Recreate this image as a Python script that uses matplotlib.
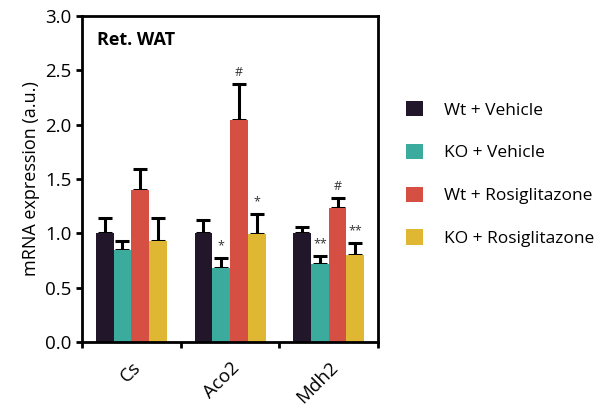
import matplotlib
matplotlib.use("Agg")
import matplotlib.pyplot as plt
import numpy as np

plt.rcParams['font.family'] = ['Open Sans', 'DejaVu Sans']

genes = ["Cs", "Aco2", "Mdh2"]
groups = ["Wt + Vehicle", "KO + Vehicle", "Wt + Rosiglitazone", "KO + Rosiglitazone"]
colors = ["#22172a", "#3aab9c", "#d64f43", "#e0b733"]

wt_veh = [1.00, 1.00, 1.00]
ko_veh = [0.85, 0.68, 0.72]
wt_rosi = [1.40, 2.04, 1.23]
ko_rosi = [0.93, 0.99, 0.80]

wt_veh_err = [0.14, 0.12, 0.06]
ko_veh_err = [0.08, 0.09, 0.07]
wt_rosi_err = [0.19, 0.33, 0.09]
ko_rosi_err = [0.21, 0.19, 0.11]

# significance marks: (gene index, group index, text)
marks_gene = [1, 1, 1, 2, 2, 2]
marks_group = [1, 2, 3, 1, 2, 3]
marks_text = ["*", "#", "*", "**", "#", "**"]

values = [wt_veh, ko_veh, wt_rosi, ko_rosi]
errors = [wt_veh_err, ko_veh_err, wt_rosi_err, ko_rosi_err]

fig = plt.figure(figsize=(6.03, 4.07), dpi=100)
ax = fig.add_axes([0.136, 0.160, 0.491, 0.801])

x = np.arange(len(genes))
w = 0.18
offsets = (np.arange(4) - 1.5) * w
for i in range(4):
    ax.bar(x + offsets[i], values[i], width=w, color=colors[i], label=groups[i], zorder=2)
    ax.errorbar(x + offsets[i], values[i], yerr=[np.zeros(3), errors[i]], fmt='none',
                ecolor='black', elinewidth=2.2, capsize=5, capthick=2.2, zorder=1)

for g, k, t in zip(marks_gene, marks_group, marks_text):
    top = values[k][g] + errors[k][g]
    ax.text(x[g] + offsets[k], top + 0.05, t, ha='center', va='bottom', fontsize=9, color='#333333')

ax.set_xlim(-0.5, 2.5)
ax.set_ylim(0, 3.0)
ax.set_yticks(np.arange(0, 3.01, 0.5))
ax.set_yticklabels([f"{v:.1f}" for v in np.arange(0, 3.01, 0.5)], fontsize=13.5)
ax.set_xticks([-0.5, 0.5, 1.5, 2.5])
ax.set_xticklabels([])
ax.set_xticks(x, minor=True)
ax.set_xticklabels(genes, minor=True, rotation=45, ha='right', rotation_mode='anchor', fontsize=13.5)
ax.tick_params(axis='x', which='minor', length=0, pad=12)
ax.tick_params(axis='x', which='major', length=4, width=2, direction='out')
ax.tick_params(axis='y', length=4, width=2, direction='out')
for s in ax.spines.values():
    s.set_linewidth(2)
ax.set_ylabel("mRNA expression (a.u.)", fontsize=13)
ax.text(0.05, 0.955, "Ret. WAT", transform=ax.transAxes, fontsize=13, fontweight='bold', va='top')

ax.legend(loc='center left', bbox_to_anchor=(1.04, 0.515), frameon=False, fontsize=12.5,
          handlelength=1.0, handleheight=1.0, handletextpad=1.2, labelspacing=1.45)

fig.savefig("out.png", dpi=100)
